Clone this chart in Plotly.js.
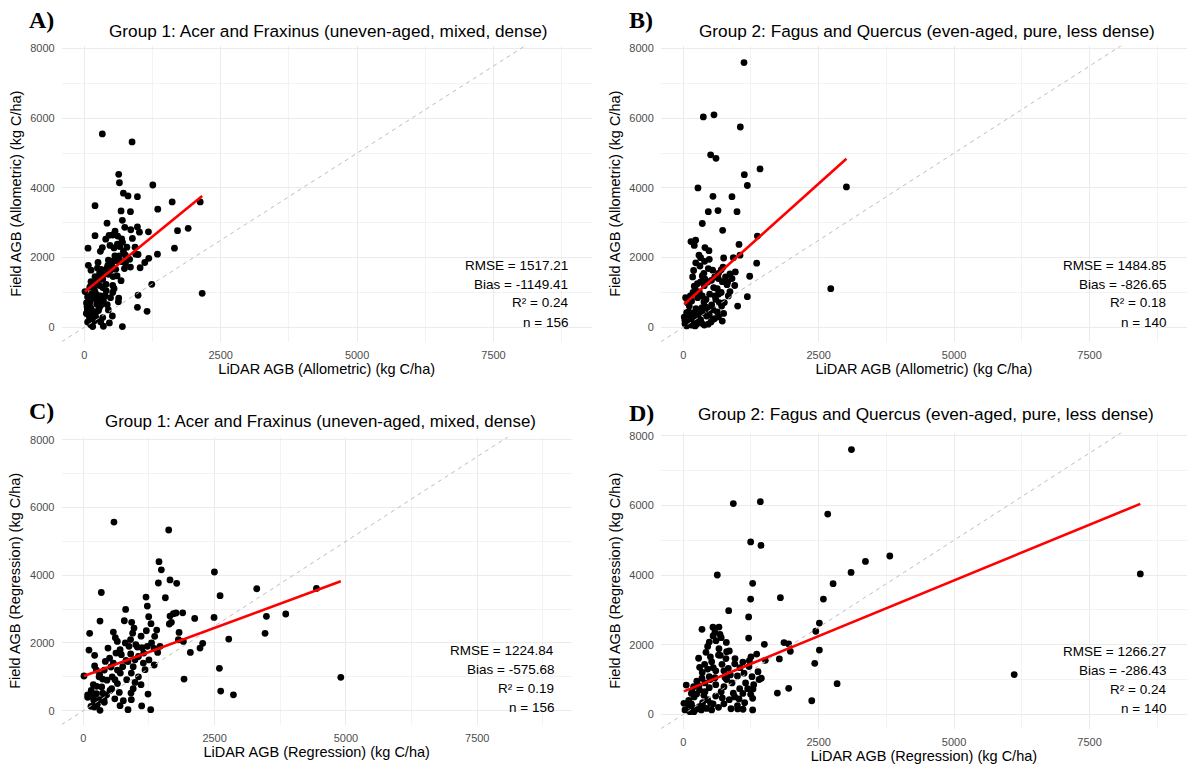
<!DOCTYPE html>
<html>
<head>
<meta charset="utf-8">
<script src="https://cdn.plot.ly/plotly-3.0.1.min.js"></script>
<style>
  html, body { margin: 0; padding: 0; background: #ffffff; }
  #chart { width: 1190px; height: 764px; }
</style>
</head>
<body>
<div id="chart"></div>
<script>
// ---------------- DATA ----------------
const panelLabels = ["A)", "B)", "C)", "D)"];
const panelTitles = [
  "Group 1: Acer and Fraxinus (uneven-aged, mixed, dense)",
  "Group 2: Fagus and Quercus (even-aged, pure, less dense)",
  "Group 1: Acer and Fraxinus (uneven-aged, mixed, dense)",
  "Group 2: Fagus and Quercus (even-aged, pure, less dense)"
];
const xTitles = [
  "LiDAR AGB (Allometric) (kg C/ha)",
  "LiDAR AGB (Allometric) (kg C/ha)",
  "LiDAR AGB (Regression) (kg C/ha)",
  "LiDAR AGB (Regression) (kg C/ha)"
];
const yTitles = [
  "Field AGB (Allometric) (kg C/ha)",
  "Field AGB (Allometric) (kg C/ha)",
  "Field AGB (Regression) (kg C/ha)",
  "Field AGB (Regression) (kg C/ha)"
];
const xTickVals = [0, 2500, 5000, 7500];
const yTickVals = [0, 2000, 4000, 6000, 8000];

// stats shown in each panel
const rmseVals = [1517.21, 1484.85, 1224.84, 1266.27];
const biasVals = [-1149.41, -826.65, -575.68, -286.43];
const r2Vals = [0.24, 0.18, 0.19, 0.24];
const nVals = [156, 140, 156, 140];

// fitted linear model (red line) coefficients
const fitIntercepts = [1010, 635, 1018, 650];
const fitSlopes = [1.278, 1.396, 0.5717, 0.639];

// points: [LiDAR AGB, Field AGB]
const pointsA = [
  [330,5550],[875,5320],[630,4390],[643,4150],[1255,4085],[716,3850],[800,3770],[973,3750],
  [196,3490],[1610,3600],[2124,3600],[673,3340],[845,3320],[1346,3390],[697,3070],[416,2990],
  [741,2870],[851,2800],[973,2880],[1010,2730],[1175,2740],[1708,2775],[1903,2840],[196,2630],
  [563,2760],[453,2640],[392,2530],[881,2550],[685,2540],[606,2390],[545,2280],[649,2320],
  [716,2180],[330,2290],[294,2180],[67,2270],[930,2300],[942,2100],[985,2090],[1652,2270],
  [1340,2100],[1181,1980],[1108,1860],[1022,1710],[753,2070],[441,1930],[526,1900],[600,1900],
  [692,1885],[753,1840],[251,1860],[73,1780],[122,1640],[306,1665],[410,1685],[484,1645],
  [575,1665],[845,1730],[735,1685],[441,1520],[526,1455],[600,1475],[673,1340],[196,1455],
  [269,1405],[337,1380],[122,1310],[398,1235],[520,1205],[545,1110],[1236,1235],[12,1025],
  [337,1140],[184,1070],[233,920],[165,850],[380,900],[630,840],[985,920],[2160,975],
  [104,710],[227,660],[306,640],[441,500],[973,575],[1150,460],[55,500],[141,420],
  [202,365],[73,365],[514,325],[337,280],[153,230],[459,125],[116,75],[153,20],
  [349,30],[697,20],[624,735],[214,800],[275,565],[37,400],
  [50,600],[80,450],[120,550],[150,900],[200,1000],[250,780],[90,300],[60,150],
  [180,180],[220,250],[260,480],[300,900],[350,760],[400,1050],[280,1200],[230,1300],
  [170,1150],[130,950],[100,1150],[60,870],[40,700],[150,350],[190,450],[300,150],
  [420,650],[480,850],[520,1000],[360,1520],[280,1560],[240,1700],[430,1780],[500,1780],
  [560,2050],[470,2350],[640,2050],[700,2440],[520,2650],[610,2620],[780,2300],[830,1950]
];
const pointsB = [
  [1121,7600],[370,6040],[567,6100],[1053,5750],[505,4950],[604,4850],[1417,4545],[1127,4380],
  [1183,4070],[3012,4030],[271,4000],[548,3760],[899,3750],[462,3320],[641,3350],[992,3320],
  [351,2980],[727,2785],[1368,2620],[142,2460],[228,2500],[203,2350],[1029,2380],[400,2290],
  [474,2200],[290,2070],[745,1990],[924,2000],[1047,2070],[394,1895],[308,1760],[462,1685],
  [542,1640],[733,1730],[1355,1840],[191,1630],[961,1590],[862,1530],[1226,1465],[173,1445],
  [351,1475],[647,1400],[721,1310],[807,1225],[203,1180],[388,1195],[561,1140],[628,1110],
  [862,1025],[296,1015],[487,950],[2723,1110],[43,850],[1183,880],[1004,610],[758,710],
  [708,610],[154,755],[265,850],[382,730],[524,640],[111,610],[234,535],[345,565],
  [628,440],[745,400],[62,420],[154,365],[277,325],[431,325],[18,295],[99,230],
  [185,180],[320,210],[511,155],[31,105],[123,75],[246,95],[388,65],[62,40],
  [554,230],[462,515],[585,900],[832,900],[665,710],
  [30,200],[60,300],[100,450],[140,250],[200,420],[250,300],[300,500],[350,420],
  [420,580],[480,350],[550,500],[600,800],[650,950],[700,1000],[80,700],[130,900],
  [180,1000],[220,1100],[260,1250],[320,1300],[400,1380],[450,1300],[520,1350],[580,1450],
  [650,1550],[700,1650],[780,1450],[820,1300],[900,1400],[950,1200],[350,900],[420,800],
  [200,150],[280,130],[340,120],[160,60],[220,40],[460,90],[580,250],[650,300],
  [720,180],[380,1550],[230,1850],[320,2000],[480,1950]
];
const pointsC = [
  [584,5570],[1626,5335],[1441,4400],[1486,4160],[2496,4095],[1429,3770],[1651,3860],[1778,3760],
  [343,3490],[2604,3395],[3302,3600],[4439,3610],[1194,3355],[1562,3335],[1219,3090],[806,2990],
  [781,2655],[921,2610],[1245,2775],[1651,2795],[1715,2865],[1765,2885],[1892,2890],[2121,2725],
  [2489,2755],[318,2645],[965,2440],[940,2290],[1200,2360],[1289,2570],[1397,2380],[1359,2195],
  [1638,2560],[1677,2610],[1823,2310],[3486,2785],[3854,2855],[3460,2285],[572,2320],[610,2155],
  [648,2045],[121,2285],[470,1850],[108,1790],[216,1635],[419,1455],[622,1700],[724,1655],
  [813,1485],[870,1900],[902,1675],[984,1505],[1029,1880],[1118,1860],[1219,1900],[1143,1405],
  [1175,1210],[1346,1840],[1416,1720],[1460,1900],[1810,2095],[1905,2045],[2038,1720],[2222,1850],
  [2273,1990],[2769,2115],[216,1320],[527,1290],[572,1405],[311,1065],[368,935],[13,1025],
  [603,915],[705,1110],[826,915],[914,1110],[984,835],[1099,770],[254,720],[191,770],
  [540,650],[508,600],[686,540],[908,520],[1232,490],[1918,935],[2591,1250],[2616,580],
  [2858,470],[4902,985],[83,470],[159,425],[229,305],[318,325],[394,345],[83,395],
  [762,295],[914,325],[146,130],[210,110],[318,10],[851,30],[1111,140],[1283,30],
  [267,180],[368,520],[445,470],
  [150,600],[250,500],[350,700],[450,900],[550,1000],[650,1200],[750,1300],[850,1450],
  [950,1300],[1050,1600],[1150,1700],[300,1000],[400,1200],[500,1550],[700,1800],[800,2000],
  [900,2100],[1000,1950],[1100,2200],[1300,2000],[200,300],[400,250],[600,350],[700,150],
  [950,650],[1050,1000],[1250,1500],[1350,1350],[250,1200],[650,800]
];
const pointsD = [
  [3105,7600],[924,6050],[1423,6105],[2667,5750],[1244,4950],[1435,4850],[3813,4545],[3363,4390],
  [3098,4075],[628,4000],[1281,3760],[2766,3750],[1244,3310],[1793,3350],[2587,3310],[838,2975],
  [1207,2795],[2513,2620],[345,2440],[548,2500],[659,2505],[585,2355],[678,2295],[2446,2385],
  [480,2075],[604,2115],[795,2065],[1207,2190],[1497,2010],[1860,2060],[659,1885],[419,1780],
  [850,1820],[684,1695],[1355,1730],[1946,2020],[1977,1810],[2513,1845],[283,1610],[524,1510],
  [788,1600],[955,1600],[1515,1550],[1774,1590],[302,1350],[394,1435],[715,1435],[832,1320],
  [554,1340],[1047,1340],[1213,1370],[2427,1465],[1220,1540],[1121,1180],[1269,1080],[1441,1035],
  [1380,1225],[345,1035],[480,1080],[585,1050],[770,1060],[869,1130],[55,840],[191,795],
  [289,825],[480,765],[751,795],[1041,735],[1189,735],[1287,730],[2840,880],[1946,745],
  [1737,610],[166,620],[246,585],[400,650],[598,525],[721,470],[924,605],[1029,440],
  [1133,335],[1244,575],[1281,460],[2372,390],[12,315],[99,270],[172,200],[296,220],
  [357,335],[505,315],[431,170],[524,125],[31,125],[123,75],[881,160],[1004,155],
  [1103,145],[1281,125],[197,75],[333,125],[6110,1140],[8438,4030],
  [100,400],[150,300],[250,150],[350,250],[450,420],[550,300],[650,200],[750,300],
  [850,420],[950,500],[1100,600],[200,500],[300,700],[400,900],[500,1000],[600,850],
  [700,650],[800,1000],[900,900],[1000,1100],[1150,900],[1300,850],[1400,1000],[350,1200],
  [450,1300],[600,1250],[750,1250],[950,1450],[1100,1500],[1250,1650],[500,1650],[650,1700],
  [800,1800],[450,1950],[700,2200],[550,2250],[150,600],[250,950],[380,550],[1000,250]
];

// ---------------- LAYOUT GEOMETRY ----------------
const W = 1190, H = 764;
const X_RANGE = [-415, 9300];
const Y_RANGE = [-413, 8083];
// panel boxes in pixels: [left, right, top, bottom]
const boxes = [
  [61.7, 591.7, 45.7, 341.7],
  [660.8, 1187, 45.7, 341.7],
  [61.5, 571.8, 436.9, 724.7],
  [660.8, 1187, 432.8, 728.7]
];
const labelPos = [[41, 20], [641, 20], [41, 411], [641, 413]];
const titlePos = [[328, 31], [927, 31], [320, 421], [926, 414]];
const titleSize = [17.2, 17.2, 16.9, 17.2];
const statsRight = [570, 1168, 556, 1168];
const statsTop = [265, 265, 650, 651];
const statsStep = [19, 19, 19, 19.3];

const FONT = "Liberation Sans, Arial, Helvetica, sans-serif";
const GRID = "#EBEBEB";

const traces = [];
const layout = {
  width: W, height: H,
  margin: {l: 0, r: 0, t: 0, b: 0},
  paper_bgcolor: "#ffffff",
  plot_bgcolor: "#ffffff",
  showlegend: false,
  font: {family: FONT, color: "#000000"},
  annotations: []
};

const allPoints = [pointsA, pointsB, pointsC, pointsD];

allPoints.forEach((pts, i) => {
  const sfx = i === 0 ? "" : String(i + 1);
  const xa = "x" + sfx, ya = "y" + sfx;
  const b = boxes[i];
  const xs = pts.map(p => p[0]);
  const ys = pts.map(p => p[1]);

  layout["xaxis" + sfx] = {
    domain: [b[0] / W, b[1] / W],
    anchor: ya,
    range: X_RANGE,
    tickmode: "array",
    tickvals: xTickVals,
    ticktext: xTickVals.map(String),
    showgrid: true, gridcolor: GRID, gridwidth: 1,
    minor: {tickmode: "linear", tick0: 1250, dtick: 2500, showgrid: true, gridcolor: GRID, gridwidth: 0.6, ticks: ""},
    zeroline: false, showline: false, ticks: "",
    ticklabelstandoff: 5,
    tickfont: {family: FONT, size: 11, color: "#4D4D4D"},
    title: {text: xTitles[i], font: {family: FONT, size: 14.5, color: "#000000"}, standoff: 4},
    automargin: false,
    fixedrange: true
  };
  layout["yaxis" + sfx] = {
    domain: [1 - b[3] / H, 1 - b[2] / H],
    anchor: xa,
    range: Y_RANGE,
    tickmode: "array",
    tickvals: yTickVals,
    ticktext: yTickVals.map(String),
    showgrid: true, gridcolor: GRID, gridwidth: 1,
    minor: {tickmode: "linear", tick0: 1000, dtick: 2000, showgrid: true, gridcolor: GRID, gridwidth: 0.6, ticks: ""},
    zeroline: false, showline: false, ticks: "",
    ticklabelstandoff: 6,
    tickfont: {family: FONT, size: 11, color: "#4D4D4D"},
    title: {text: yTitles[i], font: {family: FONT, size: 14.5, color: "#000000"}, standoff: 5},
    automargin: false,
    fixedrange: true
  };

  // points
  traces.push({
    type: "scatter", mode: "markers", xaxis: xa, yaxis: ya,
    x: xs, y: ys,
    marker: {color: "#000000", size: 6.8, line: {width: 0}},
    hoverinfo: "skip"
  });
  // 1:1 line
  traces.push({
    type: "scatter", mode: "lines", xaxis: xa, yaxis: ya,
    x: X_RANGE, y: X_RANGE,
    line: {color: "#BDBDBD", width: 1, dash: "4px,4px"},
    hoverinfo: "skip"
  });
  // fitted line across data extent
  const xmin = Math.min(...xs), xmax = Math.max(...xs);
  traces.push({
    type: "scatter", mode: "lines", xaxis: xa, yaxis: ya,
    x: [xmin, xmax],
    y: [fitIntercepts[i] + fitSlopes[i] * xmin, fitIntercepts[i] + fitSlopes[i] * xmax],
    line: {color: "#FF0000", width: 2.6},
    hoverinfo: "skip"
  });

  // panel letter
  layout.annotations.push({
    xref: "paper", yref: "paper",
    x: labelPos[i][0] / W, y: 1 - labelPos[i][1] / H,
    xanchor: "center", yanchor: "middle",
    text: "<b>" + panelLabels[i] + "</b>", showarrow: false,
    font: {family: "Liberation Serif, Times New Roman, serif", size: 24, color: "#000000"}
  });
  // panel title
  layout.annotations.push({
    xref: "paper", yref: "paper",
    x: titlePos[i][0] / W, y: 1 - titlePos[i][1] / H,
    xanchor: "center", yanchor: "middle",
    text: panelTitles[i], showarrow: false,
    font: {family: FONT, size: titleSize[i], color: "#000000"}
  });
  // stats lines
  const lines = [
    "RMSE = " + rmseVals[i].toFixed(2),
    "Bias = " + biasVals[i].toFixed(2),
    "R\u00B2 = " + r2Vals[i].toFixed(2),
    "n = " + nVals[i]
  ];
  lines.forEach((t, k) => {
    layout.annotations.push({
      xref: "paper", yref: "paper",
      x: statsRight[i] / W, y: 1 - (statsTop[i] + k * statsStep[i]) / H,
      xanchor: "right", yanchor: "middle",
      text: t, showarrow: false,
      font: {family: FONT, size: 13.5, color: "#000000"}
    });
  });
});

Plotly.newPlot("chart", traces, layout, {staticPlot: true, displayModeBar: false});
</script>
</body>
</html>
